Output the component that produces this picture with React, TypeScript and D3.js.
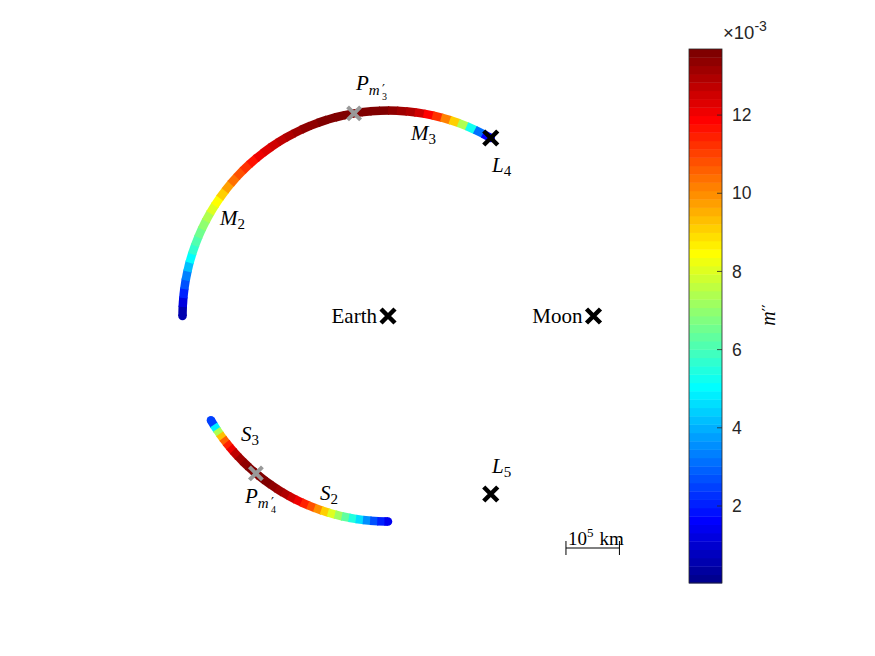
import React from "react";
import * as d3 from "d3";

// angles (deg, Earth-centred rotating frame) and m'' values (x 1e-3) along each arc
const upperAngles = [180, 177.5, 175, 172.5, 170, 167.5, 165, 162.5, 160, 157.5, 155, 152.5, 150, 147.5, 145, 142.5, 140, 137.5, 135, 132.5, 130, 127.5, 125, 122.5, 120, 117.5, 115, 112.5, 110, 107.5, 105, 102.5, 100, 97.5, 95, 92.5, 90, 87.5, 85, 82.5, 80, 77.5, 75, 72.5, 70, 67.5, 65, 62.5, 60];
const upperValues = [0.2, 0.9, 1.7, 2.4, 3.0, 3.8, 4.7, 5.4, 5.8, 6.3, 6.8, 7.2, 7.7, 8.2, 8.8, 9.4, 10.0, 10.6, 11.1, 11.5, 11.9, 12.2, 12.5, 12.7, 12.9, 13.1, 13.2, 13.35, 13.45, 13.55, 13.6, 13.65, 13.7, 13.7, 13.65, 13.6, 13.5, 13.35, 13.15, 12.8, 12.3, 11.6, 10.7, 9.7, 8.5, 6.4, 4.0, 2.2, 1.2];

const lowerAngles = [210.5, 212, 213.5, 215, 216.5, 218, 219.5, 221, 223, 225, 227, 229, 231, 233, 235, 237, 239, 241, 243, 245, 247, 249, 251, 253, 255, 257, 259, 261, 263, 265, 267, 269, 270];
const lowerValues = [1.3, 3.5, 6.0, 8.6, 10.2, 11.2, 11.9, 12.4, 12.9, 13.2, 13.5, 13.65, 13.7, 13.6, 13.5, 13.35, 13.1, 12.8, 12.4, 11.9, 11.2, 10.4, 9.5, 8.6, 7.6, 6.7, 5.9, 5.1, 4.1, 3.2, 2.4, 1.7, 1.3];

const bodyNames = ["Earth", "Moon"];
const bodyX = [0, 1];
const lagrangeNames = ["4", "5"];
const lagrangeAngles = [60, -60];
const periAngles = [99.5, 230];
const periSubs = ["3", "4"];

const cbTicks = [2, 4, 6, 8, 10, 12];
const cMin = 0.03;
const cMax = 13.69;
const scaleKm = 1e5;
const earthMoonKm = 384400;

// MATLAB jet(64)
function jet64(): string[] {
  const u = (j: number) => (j < 1 || j > 47 ? 0 : j <= 16 ? j / 16 : j <= 31 ? 1 : (48 - j) / 16);
  const out: string[] = [];
  for (let k = 1; k <= 64; k++) {
    out.push(d3.rgb(255 * u(k - 24), 255 * u(k - 8), 255 * u(k + 8)).formatHex());
  }
  return out;
}
const jet = jet64();

const W = 875;
const H = 656;
const serif = "'Liberation Serif', 'Times New Roman', serif";
const sans = "'Liberation Sans', Arial, Helvetica, sans-serif";
const primeFont = "'DejaVu Sans', sans-serif";

const x = d3.scaleLinear().domain([0, 1]).range([388, 593.5]);
const y = d3.scaleLinear().domain([0, 1]).range([316, 110.5]);
const color = d3.scaleQuantize<string>().domain([cMin, cMax]).range(jet);
const cbY = d3.scaleLinear().domain([cMin, cMax]).range([583, 49]);
const rad = (a: number) => (a * Math.PI) / 180;

const line = d3
  .line<number>()
  .x((a) => x(Math.cos(rad(a))))
  .y((a) => y(Math.sin(rad(a))));

const LW = 8.5;

function Arc({ angles, values }: { angles: number[]; values: number[] }) {
  const n = angles.length;
  const dir = Math.sign(angles[n - 1] - angles[0]);
  const ov = 0.35 * dir; // small overlap so segments join without seams
  const end = (a: number) => [x(Math.cos(rad(a))), y(Math.sin(rad(a)))];
  const [sx, sy] = end(angles[0]);
  const [ex, ey] = end(angles[n - 1]);
  return (
    <g>
      <circle cx={sx} cy={sy} r={LW / 2} fill={color((values[0] + values[1]) / 2)} />
      <circle cx={ex} cy={ey} r={LW / 2} fill={color((values[n - 2] + values[n - 1]) / 2)} />
      {angles.slice(0, -1).map((a, i) => (
        <path
          key={i}
          d={line([a, angles[i + 1] + (i < n - 2 ? ov : 0)]) || ""}
          stroke={color((values[i] + values[i + 1]) / 2)}
          strokeWidth={LW}
          strokeLinecap="butt"
          fill="none"
        />
      ))}
    </g>
  );
}

function Cross({ cx, cy, s, w, c }: { cx: number; cy: number; s: number; w: number; c: string }) {
  return (
    <path
      d={`M${cx - s},${cy - s}L${cx + s},${cy + s}M${cx - s},${cy + s}L${cx + s},${cy - s}`}
      stroke={c}
      strokeWidth={w}
      fill="none"
    />
  );
}

function Sub({ px, py, main, sub }: { px: number; py: number; main: string; sub: string }) {
  return (
    <text x={px} y={py} fontFamily={serif} fontSize={21} fill="#000">
      <tspan fontStyle="italic">{main}</tspan>
      <tspan fontSize={15} dy={4}>{sub}</tspan>
    </text>
  );
}

export default function App() {
  const pt = (a: number) => [x(Math.cos(rad(a))), y(Math.sin(rad(a)))];
  const sbLen = x(scaleKm / earthMoonKm) - x(0);
  const sbX = x(0.866);
  const sbY = y(-1.129);
  return (
    <div style={{ position: "absolute", left: 0, top: 0 }}>
      <svg width={W} height={H} style={{ display: "block", background: "#fff" }}>
        <Arc angles={upperAngles} values={upperValues} />
        <Arc angles={lowerAngles} values={lowerValues} />

        {periAngles.map((a, i) => {
          const [px, py] = pt(a);
          return <Cross key={i} cx={px} cy={py} s={6.5} w={4} c="#999999" />;
        })}
        {lagrangeAngles.map((a, i) => {
          const [px, py] = pt(a);
          return <Cross key={i} cx={px} cy={py} s={7} w={4.5} c="#000" />;
        })}
        {bodyX.map((bx, i) => (
          <g key={i}>
            <Cross cx={x(bx)} cy={y(0)} s={7} w={4.5} c="#000" />
            <text x={x(bx) - 11} y={y(0) + 7} textAnchor="end" fontFamily={serif} fontSize={21}>
              {bodyNames[i]}
            </text>
          </g>
        ))}

        {/* labels */}
        <Sub px={x(-0.818)} py={y(0.443)} main="M" sub="2" />
        <Sub px={x(0.112)} py={y(0.856)} main="M" sub="3" />
        <Sub px={x(-0.715)} py={y(-0.608)} main="S" sub="3" />
        <Sub px={x(-0.331)} py={y(-0.895)} main="S" sub="2" />
        {lagrangeAngles.map((a, i) => (
          <Sub key={i} px={x(0.506)} py={i === 0 ? y(0.701) : y(-0.764)} main="L" sub={lagrangeNames[i]} />
        ))}
        {periSubs.map((s, i) => {
          const px = i === 0 ? x(-0.156) : x(-0.696);
          const py = i === 0 ? y(1.1) : y(-0.91);
          return (
            <g key={i} fontFamily={serif}>
              <text x={px} y={py} fontSize={21}>
                <tspan fontStyle="italic">P</tspan>
                <tspan fontStyle="italic" fontSize={15} dy={5}>m</tspan>
              </text>
              <text x={px + 26} y={py + 3} fontSize={13} fontFamily={primeFont}>′</text>
              <text x={px + 26} y={py + 10} fontSize={10}>{s}</text>
            </g>
          );
        })}

        {/* scale bar */}
        <g stroke="#000" strokeWidth={1}>
          <line x1={sbX} x2={sbX + sbLen} y1={sbY} y2={sbY} />
          <line x1={sbX} x2={sbX} y1={sbY - 7} y2={sbY + 7} />
          <line x1={sbX + sbLen} x2={sbX + sbLen} y1={sbY - 7} y2={sbY + 7} />
        </g>
        <text x={sbX + 2} y={sbY - 3} fontFamily={serif} fontSize={19}>
          10<tspan fontSize={13} dy={-8}>5</tspan>
          <tspan dy={8} dx={6}>km</tspan>
        </text>

        {/* colorbar */}
        {jet.map((c, i) => {
          const v0 = cMin + ((cMax - cMin) * i) / 64;
          const v1 = cMin + ((cMax - cMin) * (i + 1)) / 64;
          return <rect key={i} x={689} y={cbY(v1)} width={33} height={cbY(v0) - cbY(v1) + 0.4} fill={c} />;
        })}
        <rect x={689} y={49} width={33} height={534} fill="none" stroke="#262626" strokeWidth={0.8} />
        {cbTicks.map((t) => (
          <g key={t}>
            <line x1={717} x2={722} y1={cbY(t)} y2={cbY(t)} stroke="#262626" strokeWidth={0.8} />
            <text x={732} y={cbY(t)} dy="0.35em" fontFamily={sans} fontSize={17.5} fill="#262626">
              {t}
            </text>
          </g>
        ))}
        <text x={723} y={39} fontFamily={sans} fontSize={18.5} fill="#262626">
          ×10<tspan fontSize={14} dy={-8}>-3</tspan>
        </text>
        <text
          transform="translate(775,315) rotate(-90)"
          textAnchor="middle"
          fontFamily={serif}
          fontSize={20}
        >
          <tspan fontStyle="italic">m</tspan>
          <tspan fontSize={15} dy={-1} fontFamily={primeFont}>′′</tspan>
        </text>
      </svg>
    </div>
  );
}
